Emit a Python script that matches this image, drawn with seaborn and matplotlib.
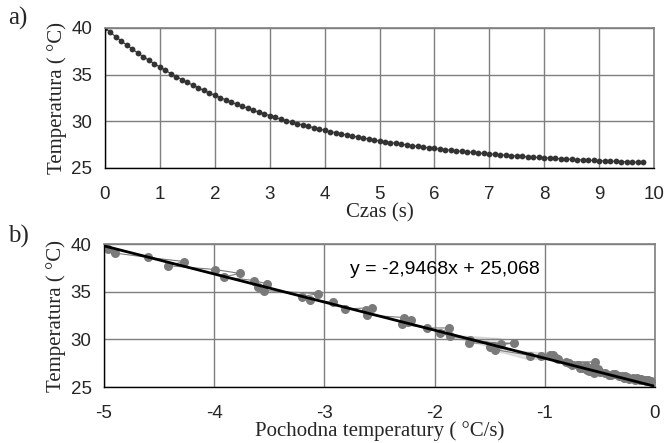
import matplotlib
matplotlib.use("Agg")
import matplotlib.pyplot as plt
from matplotlib.ticker import MultipleLocator
import seaborn as sns
import pandas as pd

# ---- data ----
time_s = [round(0.1 * i, 1) for i in range(99)]
temperature = [
    40.00, 39.52, 39.05, 38.59, 38.16, 37.73, 37.32, 36.92, 36.54, 36.17,
    35.81, 35.46, 35.12, 34.79, 34.48, 34.17, 33.88, 33.59, 33.31, 33.05,
    32.79, 32.54, 32.29, 32.06, 31.83, 31.61, 31.40, 31.19, 30.99, 30.80,
    30.61, 30.43, 30.25, 30.08, 29.92, 29.76, 29.61, 29.46, 29.32, 29.18,
    29.04, 28.91, 28.79, 28.66, 28.55, 28.43, 28.32, 28.21, 28.11, 28.01,
    27.91, 27.82, 27.73, 27.64, 27.55, 27.47, 27.39, 27.32, 27.24, 27.17,
    27.10, 27.03, 26.97, 26.90, 26.84, 26.78, 26.72, 26.67, 26.61, 26.56,
    26.51, 26.46, 26.42, 26.37, 26.33, 26.28, 26.24, 26.20, 26.16, 26.13,
    26.09, 26.05, 26.02, 25.99, 25.96, 25.92, 25.89, 25.87, 25.84, 25.81,
    25.78, 25.76, 25.73, 25.71, 25.69, 25.67, 25.64, 25.62, 25.60,
]
# derivative for points 1..98 (paired with temperature[1:])
derivative = [
    -4.96, -4.90, -4.60, -4.27, -4.42, -3.99, -3.77, -3.91, -3.64, -3.52,
    -3.60, -3.55, -3.06, -3.20, -3.13, -2.92, -2.81, -2.57, -2.62, -2.81,
    -2.61, -2.28, -2.21, -2.24, -2.30, -2.07, -1.87, -2.07, -1.95, -1.95,
    -1.86, -1.86, -1.40, -1.68, -1.69, -1.28, -1.69, -1.48, -1.50, -1.45,
    -1.40, -1.45, -1.13, -0.95, -1.13, -0.93, -1.03, -0.95, -0.90, -0.88,
    -1.13, -0.81, -0.54, -0.81, -0.78, -0.70, -0.75, -0.63, -0.70, -0.68,
    -0.66, -0.58, -0.68, -0.52, -0.62, -0.50, -0.60, -0.36, -0.45, -0.55,
    -0.40, -0.50, -0.38, -0.45, -0.30, -0.42, -0.33, -0.40, -0.27, -0.36,
    -0.25, -0.30, -0.20, -0.28, -0.16, -0.24, -0.13, -0.20, -0.10, -0.18,
    -0.07, -0.14, -0.06, -0.12, -0.04, -0.10, -0.05, -0.08,
]
fit_slope = -2.9468
fit_intercept = 25.068
fit_x = [-5.0, 0.0]
equation_text = "y = -2,9468x + 25,068"

x_ticks_a = list(range(0, 11))
y_ticks = [25, 30, 35, 40]
x_ticks_b = [-5, -4, -3, -2, -1, 0]
x_labels_b = ["-5", "-4", "-3", "-2", "-1", "0"]

df_a = pd.DataFrame({"t": time_s, "T": temperature})
df_b = pd.DataFrame({"d": derivative, "T": temperature[1:]})
df_fit = pd.DataFrame({"x": fit_x,
                       "y": [fit_slope * v + fit_intercept for v in fit_x]})

# ---- style ----
sns.set_theme(style="white")
plt.rcParams["font.family"] = ["Liberation Sans", "DejaVu Sans"]
SERIF = ["Liberation Serif", "DejaVu Serif"]
GRID = "#7f7f7f"

fig = plt.figure(figsize=(6.64, 4.43), dpi=100)
ax1 = fig.add_axes([105 / 664, 1 - 168 / 443, 549 / 664, 140 / 443])
ax2 = fig.add_axes([104 / 664, 1 - 387 / 443, 551 / 664, 143 / 443])


def style_axes(ax):
    for s in ["top", "right"]:
        ax.spines[s].set_color(GRID)
        ax.spines[s].set_linewidth(1.2)
    for s in ["left", "bottom"]:
        ax.spines[s].set_color("black")
        ax.spines[s].set_linewidth(1.0)
    ax.grid(True, color=GRID, linewidth=1.0)
    ax.set_axisbelow(True)
    ax.tick_params(axis="both", which="major", direction="out", length=5,
                   width=1, color="black", labelsize=13.5, pad=4)
    ax.tick_params(axis="both", which="minor", direction="out", length=3,
                   width=1, color="black")
    ax.tick_params(axis="x", pad=8)
    ax.yaxis.set_minor_locator(MultipleLocator(1))
    ax.xaxis.set_minor_locator(MultipleLocator(0.2))


# ---- panel a ----
sns.lineplot(data=df_a, x="t", y="T", ax=ax1, color="#333333", linewidth=0.8,
             marker="o", markersize=4.2, markeredgewidth=0)
ax1.set_xlim(0, 10)
ax1.set_ylim(25, 40)
ax1.set_xticks(x_ticks_a)
ax1.set_yticks(y_ticks)
style_axes(ax1)
ax1.set_xlabel("Czas (s)", family=SERIF, fontsize=15, labelpad=0)
ax1.set_ylabel("Temperatura ( °C)", family=SERIF, fontsize=15, labelpad=3)

# ---- panel b ----
sns.lineplot(data=df_b, x="d", y="T", ax=ax2, sort=False, color="#7a7a7a",
             linewidth=0.8, marker="o", markersize=6.5, markeredgewidth=0)
sns.lineplot(data=df_fit, x="x", y="y", ax=ax2, color="black", linewidth=2)
ax2.set_xlim(-5, 0)
ax2.set_ylim(25, 40)
ax2.set_xticks(x_ticks_b)
ax2.set_xticklabels(x_labels_b)
ax2.set_yticks(y_ticks)
style_axes(ax2)
ax2.set_xlabel("Pochodna temperatury ( °C/s)", family=SERIF, fontsize=15,
               labelpad=-1)
ax2.set_ylabel("Temperatura ( °C)", family=SERIF, fontsize=15, labelpad=3)
ax2.text(-2.77, 37.3, equation_text, fontsize=14, ha="left", va="center",
         color="black")

fig.text(8 / 664, 1 - 18 / 443, "a)", family=SERIF, fontsize=18,
         va="center", ha="left")
fig.text(8 / 664, 1 - 236 / 443, "b)", family=SERIF, fontsize=18,
         va="center", ha="left")

fig.savefig("out.png", dpi=100)
